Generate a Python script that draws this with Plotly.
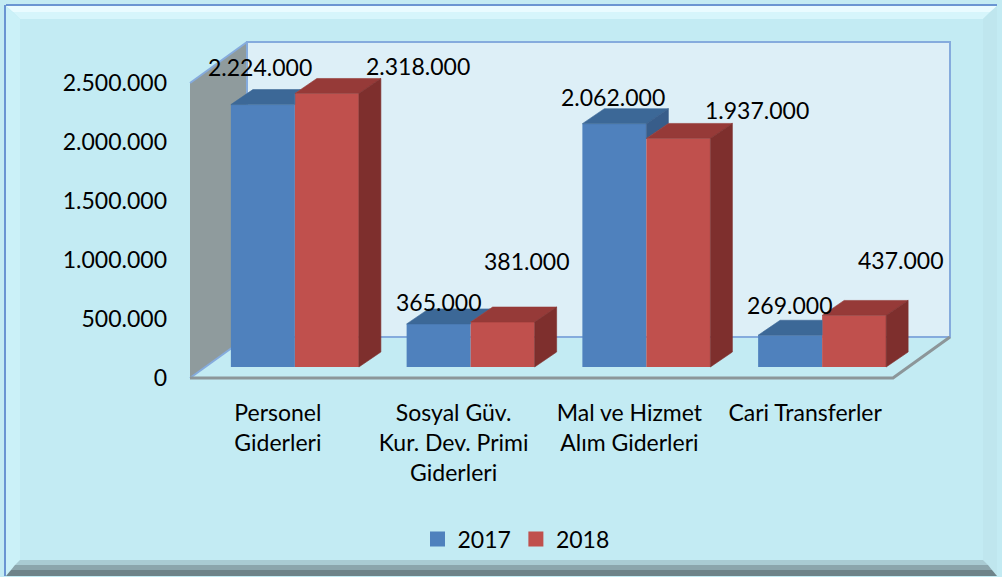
import plotly.graph_objects as go

# ---------------- data ----------------
categories = ["Personel<br>Giderleri",
              "Sosyal Güv.<br>Kur. Dev. Primi<br>Giderleri",
              "Mal ve Hizmet<br>Alım Giderleri",
              "Cari Transferler"]
series_names = ["2017", "2018"]
values_2017 = [2224000, 365000, 2062000, 269000]
values_2018 = [2318000, 381000, 1937000, 437000]
y_tick_values = [0, 500000, 1000000, 1500000, 2000000, 2500000]

# ---------------- styling / geometry (pixels) ----------------
W, H = 1002, 577
PLOT_L, PLOT_R, PLOT_T, PLOT_B = 184, 956, 34, 384
FRONT_L, FRONT_R = 190, 893      # front plane x extents
ZERO_PX, TOP_PX = 378, 83        # front plane y of 0 and of max tick
WALL_D = (57, 41)                # depth of walls/floor (dx, dy) px
BAR_OFF = (17, 11)               # bar front plane offset from front plane
BAR_D = (22, 15)                 # bar depth
BAR_W = 64                       # bar width px

FONT = "Lato"
FS = 23
C_BLUE = ("#4F81BD", "#3C6897", "#385D8A")   # front, top, side
C_RED = ("#C0504D", "#963A38", "#7E2F2D")
BG = "#C3EBF3"

# per-label pixel shifts (dx, dy-up) from the bar front-top centre
shift_2017 = [(-3, 38), (0, 22), (-1, 27), (-1, 30)]
shift_2018 = [(91, 27), (24, 61), (79, 28), (46, 55)]

ppu = (FRONT_R - FRONT_L) / len(categories)
ppv = (ZERO_PX - TOP_PX) / y_tick_values[-1]
ux = lambda p: p / ppu
vy = lambda p: p / ppv
x_range = [-0.5 - ux(FRONT_L - PLOT_L), -0.5 + ux(PLOT_R - FRONT_L)]
y_range = [-vy(PLOT_B - ZERO_PX), vy(ZERO_PX - PLOT_T)]

pxx = lambda p: (p - PLOT_L) / (PLOT_R - PLOT_L)
pyy = lambda p: (PLOT_B - p) / (PLOT_B - PLOT_T)

def fmt(v):
    return f"{v:,}".replace(",", ".")

n = len(categories)
idx = list(range(n))
w = ux(BAR_W)
fx, fy = ux(BAR_OFF[0]), vy(BAR_OFF[1])
ddx, ddy = ux(BAR_D[0]), vy(BAR_D[1])
wdx, wdy = ux(WALL_D[0]), vy(WALL_D[1])
ymax = y_tick_values[-1]

fig = go.Figure()

# front faces as bars
fig.add_trace(go.Bar(x=[i + fx - w / 2 for i in idx], y=values_2017, base=fy, width=w,
                     name=series_names[0], marker=dict(color=C_BLUE[0], line=dict(width=0)),
                     hoverinfo="y", showlegend=False, legendgroup="a"))
fig.add_trace(go.Bar(x=[i + fx + w / 2 for i in idx], y=values_2018, base=fy, width=w,
                     name=series_names[1], marker=dict(color=C_RED[0], line=dict(width=0)),
                     hoverinfo="y", showlegend=False, legendgroup="b"))

def poly(pts, color):
    xs = [p[0] for p in pts] + [pts[0][0]]
    ys = [p[1] for p in pts] + [pts[0][1]]
    return go.Scatter(x=xs, y=ys, mode="lines", fill="toself", fillcolor=color,
                      line=dict(width=0.6, color=color), hoverinfo="skip", showlegend=False)

for i in idx:
    XL = i + fx - w
    X = i + fx
    XR = i + fx + w
    Hb = fy + values_2017[i]
    Hr = fy + values_2018[i]
    if values_2017[i] >= values_2018[i]:
        fig.add_trace(poly([(XL, Hb), (X, Hb), (X + ddx, Hb + ddy), (XL + ddx, Hb + ddy)], C_BLUE[1]))
        fig.add_trace(poly([(X, Hb), (X + ddx, Hb + ddy), (X + ddx, Hr + ddy), (X, Hr)], C_BLUE[2]))
    else:
        m = min(Hr, Hb + ddy)
        fig.add_trace(poly([(XL, Hb), (X, Hb), (X, m), (X + (Hb + ddy - m) * ddx / ddy, Hb + ddy),
                            (XL + ddx, Hb + ddy)], C_BLUE[1]))
    fig.add_trace(poly([(X, Hr), (XR, Hr), (XR + ddx, Hr + ddy), (X + ddx, Hr + ddy)], C_RED[1]))
    fig.add_trace(poly([(XR, Hr), (XR + ddx, Hr + ddy), (XR + ddx, fy + ddy), (XR, fy)], C_RED[2]))

# legend entries (square swatches)
for name, col, grp in ((series_names[0], C_BLUE[0], "a"), (series_names[1], C_RED[0], "b")):
    fig.add_trace(go.Scatter(x=[None], y=[None], mode="markers", name=name, legendgroup=grp,
                             marker=dict(symbol="square", size=15, color=col, line=dict(width=0))))

# data labels
annotations = []
for vals, shifts, off in ((values_2017, shift_2017, -w / 2), (values_2018, shift_2018, w / 2)):
    for i in idx:
        annotations.append(dict(x=i + fx + off, y=fy + vals[i], xref="x", yref="y",
                                text=fmt(vals[i]), showarrow=False,
                                xanchor="center", yanchor="middle",
                                xshift=shifts[i][0], yshift=shifts[i][1],
                                font=dict(family=FONT, size=FS, color="#000")))

# walls & floor
x0f, x1f = -0.5, n - 0.5
shapes = []
shapes.append(dict(type="path", xref="x", yref="y", layer="below",
                   path=f"M{x0f},0 L{x0f},{ymax} L{x0f + wdx},{ymax + wdy} L{x0f + wdx},{wdy} Z",
                   fillcolor="#8F9B9D", line=dict(width=0)))
shapes.append(dict(type="rect", xref="x", yref="y", layer="below",
                   x0=x0f + wdx, x1=x1f + wdx, y0=wdy, y1=ymax + wdy,
                   fillcolor="#DDEFF7", line=dict(color="#85ABDD", width=2)))
shapes.append(dict(type="line", xref="x", yref="y", layer="below",
                   x0=x0f, y0=ymax, x1=x0f + wdx, y1=ymax + wdy,
                   line=dict(color="#85ABDD", width=2)))
shapes.append(dict(type="line", xref="x", yref="y", layer="below",
                   x0=x0f, y0=0, x1=x0f + wdx, y1=wdy,
                   line=dict(color="#85ABDD", width=2)))
shapes.append(dict(type="path", xref="x", yref="y", layer="below",
                   path=f"M{x0f},0 L{x1f},0 L{x1f + wdx},{wdy}",
                   line=dict(color="#8C9699", width=3)))

# frame (paper coords)
def ppath(pts):
    return "M" + " L".join(f"{pxx(a)},{pyy(b)}" for a, b in pts) + " Z"

frame_bands = [
    ([(6, 6), (997, 6), (990, 12), (13, 12)], "#E9FBFF"),
    ([(13, 12), (990, 12), (983, 19), (20, 19)], "#D6F5FB"),
    ([(6, 6), (20, 19), (20, 560), (6, 576)], "#CBF1F8"),
    ([(997, 6), (983, 19), (983, 560), (997, 576)], "#BFE6EE"),
    ([(20, 560), (983, 560), (988, 565), (15, 565)], "#A9CBD3"),
    ([(15, 565), (988, 565), (992, 570), (11, 570)], "#8BA5AC"),
    ([(11, 570), (992, 570), (997, 576), (6, 576)], "#6E8389"),
]
for pts, col in frame_bands:
    shapes.append(dict(type="path", xref="paper", yref="paper", layer="below",
                       path=ppath(pts), fillcolor=col, line=dict(width=0)))
shapes.append(dict(type="line", xref="paper", yref="paper", layer="below",
                   x0=pxx(6), y0=pyy(5), x1=pxx(997), y1=pyy(5), line=dict(color="#6A95D2", width=2)))
shapes.append(dict(type="line", xref="paper", yref="paper", layer="below",
                   x0=pxx(5), y0=pyy(5), x1=pxx(5), y1=pyy(576), line=dict(color="#6A95D2", width=2)))

fig.update_layout(
    width=W, height=H, autosize=False,
    margin=dict(l=PLOT_L, r=W - PLOT_R, t=PLOT_T, b=H - PLOT_B, pad=0),
    paper_bgcolor=BG, plot_bgcolor="rgba(0,0,0,0)",
    barmode="overlay", separators=",.",
    font=dict(family=FONT, size=FS, color="#000"),
    xaxis=dict(range=x_range, tickmode="array", tickvals=idx, ticktext=categories,
               showgrid=False, zeroline=False, showline=False, ticks="",
               ticklabelstandoff=13, fixedrange=True, tickangle=0,
               tickfont=dict(family=FONT, size=FS, color="#000")),
    yaxis=dict(range=y_range, tickmode="array", tickvals=y_tick_values, tickformat=",d",
               showgrid=False, zeroline=False, showline=False, ticks="",
               ticklabelstandoff=16, fixedrange=True,
               tickfont=dict(family=FONT, size=FS, color="#000")),
    showlegend=True,
    legend=dict(orientation="h", x=pxx(516), y=pyy(539), xanchor="center", yanchor="middle",
                bgcolor="rgba(0,0,0,0)", font=dict(family=FONT, size=FS, color="#000"),
                itemwidth=30, traceorder="normal"),
    shapes=shapes, annotations=annotations,
)

fig.write_html("out.html", config={"displayModeBar": False},
               post_script="document.body.style.margin='0';document.body.style.overflow='hidden';")
